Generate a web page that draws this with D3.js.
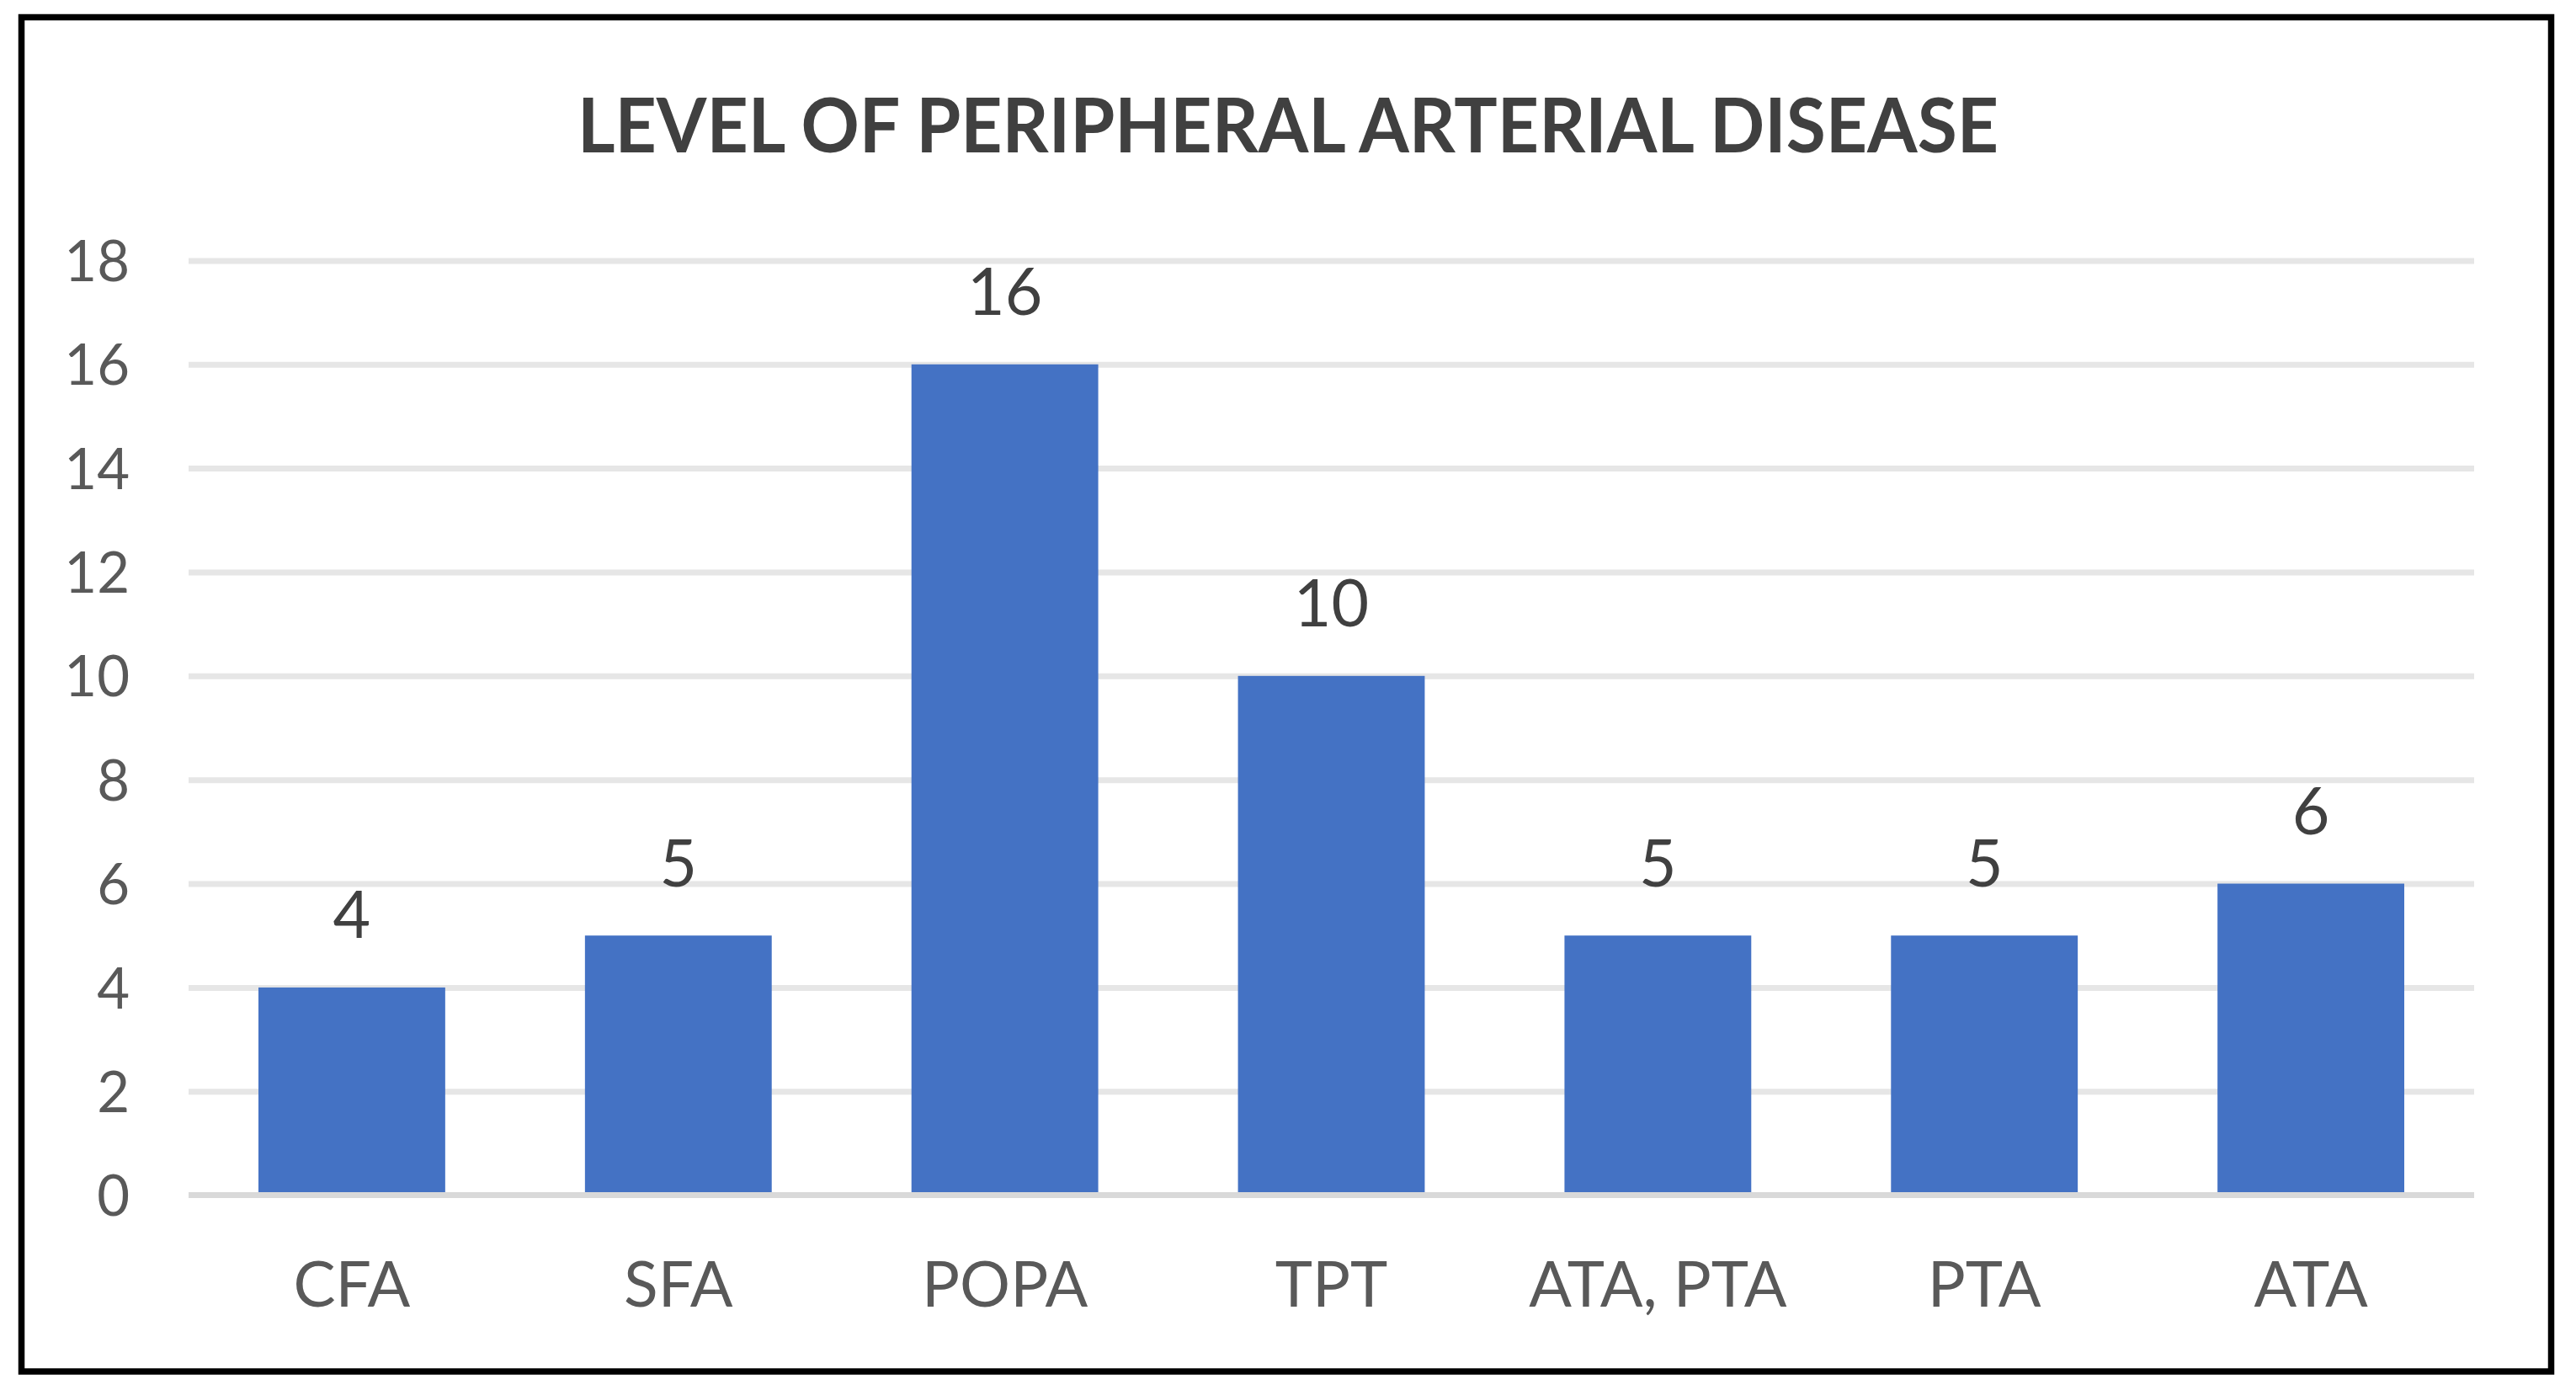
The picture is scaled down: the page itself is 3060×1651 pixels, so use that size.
<!DOCTYPE html>
<html>
<head>
<meta charset="utf-8">
<script src="https://cdn.jsdelivr.net/npm/d3@7"></script>
<style>
  html, body { margin: 0; padding: 0; background: #ffffff; }
  svg { display: block; }
</style>
</head>
<body>
<svg id="chart" width="3060" height="1651"></svg>
<script>
// ---- data ----
const categories = ["CFA", "SFA", "POPA", "TPT", "ATA, PTA", "PTA", "ATA"];
const values = [4, 5, 16, 10, 5, 5, 6];
const yTicks = [0, 2, 4, 6, 8, 10, 12, 14, 16, 18];
const titleText = "LEVEL OF PERIPHERAL ARTERIAL DISEASE";

// ---- layout ----
const W = 3060, H = 1651;
const plot = { left: 224, right: 2939, top: 309.4, bottom: 1419.6 };
const FONT = "Lato, 'Open Sans', 'Noto Sans', sans-serif";

const svg = d3.select("#chart");

svg.append("rect").attr("x", 0).attr("y", 0).attr("width", W).attr("height", H).attr("fill", "#ffffff");

// outer border
svg.append("rect")
  .attr("x", 25.5).attr("y", 20.5)
  .attr("width", 3030.5 - 25.5).attr("height", 1629 - 20.5)
  .attr("fill", "none").attr("stroke", "#000000").attr("stroke-width", 7.5);

const x = d3.scaleBand()
  .domain(categories)
  .range([plot.left, plot.right])
  .paddingInner(0.428)
  .paddingOuter(0.214);

const y = d3.scaleLinear()
  .domain([0, 18])
  .range([plot.bottom, plot.top]);

// gridlines (non-zero)
const yAxis = d3.axisLeft(y)
  .tickValues(yTicks)
  .tickSize(-(plot.right - plot.left))
  .tickFormat(d3.format("d"))
  .tickPadding(0);

const gAxis = svg.append("g")
  .attr("transform", `translate(${plot.left},0)`)
  .call(yAxis);
gAxis.select(".domain").remove();
gAxis.selectAll(".tick line")
  .attr("stroke", d => d === 0 ? "none" : "#e6e6e6")
  .attr("stroke-width", 7);
gAxis.selectAll(".tick text")
  .attr("x", 154 - plot.left)
  .attr("dy", "0.36em")
  .attr("text-anchor", "end")
  .attr("fill", "#595959")
  .style("font-family", FONT)
  .style("font-size", "67px");

// bars
svg.append("g").selectAll("rect")
  .data(values)
  .join("rect")
  .attr("x", (d, i) => x(categories[i]))
  .attr("y", d => y(d))
  .attr("width", x.bandwidth())
  .attr("height", d => y(0) - y(d))
  .attr("fill", "#4472c4");

// baseline on top
svg.append("line")
  .attr("x1", plot.left).attr("x2", plot.right)
  .attr("y1", y(0)).attr("y2", y(0))
  .attr("stroke", "#d9d9d9").attr("stroke-width", 7);

// data labels
svg.append("g").selectAll("text")
  .data(values)
  .join("text")
  .attr("x", (d, i) => x(categories[i]) + x.bandwidth() / 2)
  .attr("y", d => y(d) - 58.5)
  .attr("text-anchor", "middle")
  .attr("fill", "#404040")
  .style("font-family", FONT)
  .style("font-size", "77px")
  .text(d => d);

// category labels
const xAxis = d3.axisBottom(x).tickSize(0).tickPadding(0);
const gx = svg.append("g")
  .attr("transform", `translate(0,${plot.bottom})`)
  .call(xAxis);
gx.select(".domain").remove();
gx.selectAll(".tick text")
  .attr("y", 1552 - plot.bottom)
  .attr("dy", 0)
  .attr("fill", "#595959")
  .style("font-family", FONT)
  .style("font-size", "75px");

// title
svg.append("text")
  .attr("x", 1530)
  .attr("y", 180.5)
  .attr("text-anchor", "middle")
  .attr("fill", "#404040")
  .attr("textLength", 1688)
  .attr("lengthAdjust", "spacingAndGlyphs")
  .style("font-family", FONT)
  .style("font-weight", "bold")
  .style("font-size", "89px")
  .text(titleText);
</script>
</body>
</html>
